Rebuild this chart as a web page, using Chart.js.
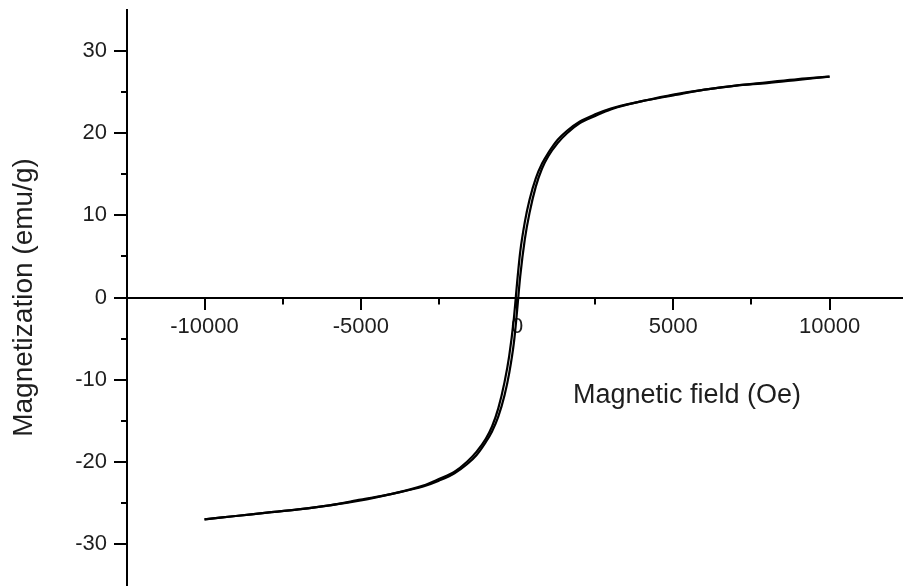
<!DOCTYPE html>
<html><head><meta charset="utf-8">
<script src="https://cdn.jsdelivr.net/npm/chart.js@4"></script>
<style>html,body{margin:0;padding:0;background:#fff}#wrap{width:903px;height:588px}</style>
</head><body><div id="wrap"><canvas id="c" width="903" height="588"></canvas></div>
<script>
// Descending-field branch (Oe, emu/g)
const fieldDown = [10000, 9000, 8000, 7000, 6000, 5000, 4000, 3000, 2500, 2000, 1600, 1300, 1000, 800, 600, 400, 250, 100, 0, -100, -250, -400, -600, -800, -1000, -1300, -1600, -2000, -2500, -3000, -4000, -5000, -6000, -7000, -8000, -9000, -10000];
const magDown = [26.9, 26.5, 26.1, 25.8, 25.3, 24.7, 23.9, 23.0, 22.3, 21.4, 20.3, 19.2, 17.6, 16.3, 14.5, 11.9, 9.2, 5.5, 1.7, -2.5, -7.1, -10.3, -13.5, -15.7, -17.2, -18.8, -20.0, -21.2, -22.1, -22.9, -23.9, -24.6, -25.3, -25.8, -26.2, -26.6, -27.0];
// Ascending-field branch
const fieldUp = [-10000, -9000, -8000, -7000, -6000, -5000, -4000, -3000, -2500, -2000, -1600, -1300, -1000, -800, -600, -400, -250, -100, 0, 100, 250, 400, 600, 800, 1000, 1300, 1600, 2000, 2500, 3000, 4000, 5000, 6000, 7000, 8000, 9000, 10000];
const magUp = [-27.0, -26.6, -26.2, -25.8, -25.3, -24.7, -23.9, -23.0, -22.3, -21.4, -20.3, -19.2, -17.6, -16.3, -14.5, -11.9, -9.2, -5.5, -1.7, 2.5, 7.1, 10.3, 13.5, 15.7, 17.2, 18.8, 20.0, 21.2, 22.1, 22.9, 23.9, 24.6, 25.3, 25.8, 26.2, 26.6, 26.9];

const xMajorTicks = [-10000, -5000, 0, 5000, 10000];
const xMinorTicks = [-7500, -2500, 2500, 7500];
const yMajorTicks = [-30, -20, -10, 0, 10, 20, 30];
const yMinorTicks = [-25, -15, -5, 5, 15, 25];
const xRange = [-12480, 12350];
const yRange = [-35, 35];
const xTitle = 'Magnetic field (Oe)';
const yTitle = 'Magnetization (emu/g)';
const xTitleAt = [5440, -11.9];

const FONT = "'Liberation Sans', Arial, sans-serif";
const TEXT = '#1e1e1e';

const toPts = (xs, ys) => xs.map((x, i) => ({x: x, y: ys[i]}));

const extras = {
  id: 'extras',
  afterDraw(chart) {
    const ctx = chart.ctx, xs = chart.scales.x, ys = chart.scales.y;
    const y0 = ys.getPixelForValue(0), xl = chart.chartArea.left;
    ctx.save();
    ctx.strokeStyle = '#000';
    ctx.lineWidth = 2;
    ctx.beginPath();
    xMinorTicks.forEach(v => {
      const px = Math.round(xs.getPixelForValue(v));
      ctx.moveTo(px, y0); ctx.lineTo(px, y0 + 7);
    });
    yMinorTicks.forEach(v => {
      const py = Math.round(ys.getPixelForValue(v));
      ctx.moveTo(xl, py); ctx.lineTo(xl - 6, py);
    });
    ctx.stroke();
    ctx.fillStyle = TEXT;
    ctx.font = '27px ' + FONT;
    ctx.textAlign = 'center';
    ctx.textBaseline = 'middle';
    ctx.fillText(xTitle, xs.getPixelForValue(xTitleAt[0]), ys.getPixelForValue(xTitleAt[1]));
    ctx.restore();
  }
};

new Chart(document.getElementById('c'), {
  type: 'line',
  data: {
    datasets: [
      {data: toPts(fieldDown, magDown), borderColor: '#000', borderWidth: 2.2, pointRadius: 0, fill: false, cubicInterpolationMode: 'monotone'},
      {data: toPts(fieldUp, magUp), borderColor: '#000', borderWidth: 2.2, pointRadius: 0, fill: false, cubicInterpolationMode: 'monotone'}
    ]
  },
  options: {
    responsive: false,
    animation: false,
    devicePixelRatio: 1,
    layout: {padding: {top: 10, bottom: 3, left: 0, right: 0}},
    plugins: {legend: {display: false}, tooltip: {enabled: false}},
    scales: {
      x: {
        type: 'linear',
        min: xRange[0], max: xRange[1],
        position: {y: 0},
        afterBuildTicks: s => { s.ticks = xMajorTicks.map(v => ({value: v})); },
        afterFit: s => { s.paddingLeft = 0; s.paddingRight = 0; },
        grid: {display: true, drawOnChartArea: false, drawTicks: true, tickLength: 11, color: '#000', lineWidth: 2},
        border: {display: true, color: '#000', width: 2},
        ticks: {font: {family: FONT, size: 22}, color: TEXT, padding: 5, maxRotation: 0, autoSkip: false, callback: v => String(v)}
      },
      y: {
        type: 'linear',
        min: yRange[0], max: yRange[1],
        position: 'left',
        afterBuildTicks: s => { s.ticks = yMajorTicks.map(v => ({value: v})); },
        afterFit: s => { s.width = 127; s.paddingTop = 0; s.paddingBottom = 0; },
        grid: {display: true, drawOnChartArea: false, drawTicks: true, tickLength: 13, color: '#000', lineWidth: 2},
        border: {display: true, color: '#000', width: 2},
        ticks: {font: {family: FONT, size: 22}, color: TEXT, padding: 7, autoSkip: false, callback: v => String(v)},
        title: {display: true, text: yTitle, font: {family: FONT, size: 28}, color: TEXT, padding: {top: 7, bottom: 0}}
      }
    }
  },
  plugins: [extras]
});
</script>
</body></html>
